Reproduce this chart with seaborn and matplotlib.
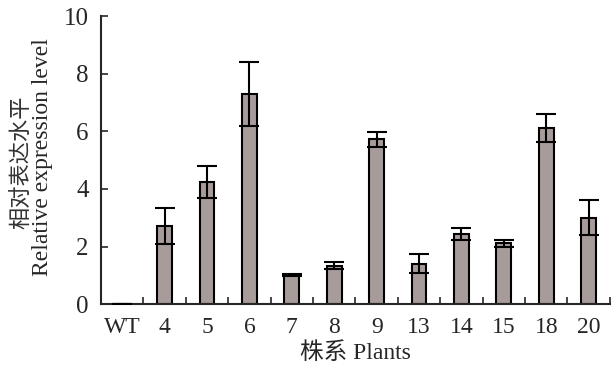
import matplotlib
matplotlib.use('Agg')
import matplotlib.pyplot as plt
import seaborn as sns
import numpy as np
import pandas as pd

# values
plants = ['WT', '4', '5', '6', '7', '8', '9', '13', '14', '15', '18', '20']
expression = [0.01, 2.72, 4.25, 7.30, 1.00, 1.33, 5.72, 1.40, 2.44, 2.11, 6.12, 3.00]
sd = [0.0, 0.62, 0.55, 1.10, 0.04, 0.12, 0.25, 0.33, 0.20, 0.12, 0.48, 0.61]

df = pd.DataFrame({'plant': plants, 'level': expression, 'sd': sd})

sns.set_style('ticks')
plt.rcParams['font.family'] = ['Liberation Serif', 'Noto Sans CJK SC']

fig = plt.figure(figsize=(6.16, 3.66), dpi=100)
ax = fig.add_axes([0.164, 0.169, 0.826, 0.787])

sns.barplot(data=df, x='plant', y='level', order=plants, color='#a89c9b',
            width=0.35, edgecolor='black', linewidth=1.5, errorbar=None,
            saturation=1, ax=ax)

xpos = np.arange(len(plants))
ax.errorbar(xpos, df['level'], yerr=df['sd'], fmt='none', ecolor='black',
            elinewidth=1.5, capsize=7, capthick=1.5, zorder=5)

ax.set_xlim(-0.5, len(plants) - 0.5)
ax.set_ylim(0, 10)
ax.set_yticks([0, 2, 4, 6, 8, 10])

# category boundary ticks, pointing up
ax.set_xticks(xpos)
ax.set_xticks(np.arange(len(plants) + 1) - 0.5, minor=True)
ax.tick_params(axis='x', which='major', length=0, pad=9, labelsize=17)
ax.tick_params(axis='x', which='minor', direction='in', length=5, width=1.2)
ax.tick_params(axis='y', direction='in', length=5, width=1.2, labelsize=18, pad=9)

for s in ['right', 'top']:
    ax.spines[s].set_visible(False)
for s in ['left', 'bottom']:
    ax.spines[s].set_linewidth(1.5)

ax.set_xlabel('株系 Plants', fontsize=17, labelpad=3)
ax.set_ylabel('')
fig.text(23 / 616, 1 - 162 / 366, '相对表达水平', rotation=90, fontsize=16,
         ha='center', va='center', color='#333333')
fig.text(43 / 616, 1 - 157 / 366, 'Relative expression level', rotation=90,
         fontsize=17, ha='center', va='center')

fig.savefig('out.png', dpi=100)
